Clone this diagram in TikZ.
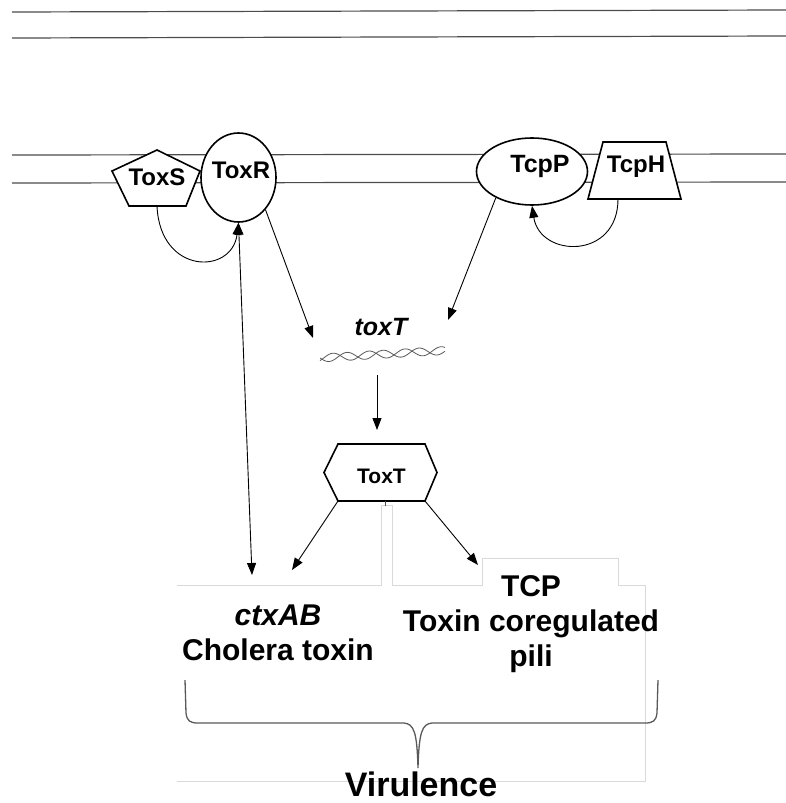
\documentclass[tikz,border=0pt]{standalone}
\usepackage{fontspec}
\setmainfont{Liberation Sans}
\usetikzlibrary{shapes.geometric,shapes.symbols,arrows.meta,calc}
\begin{document}
\begin{tikzpicture}[x=1pt,y=-1pt,
  shp/.style={draw, line width=1.6pt, fill=white, inner sep=0pt},
  lbl/.style={font=\fontsize{24}{28}\selectfont\bfseries, inner sep=0pt},
  blk/.style={font=\fontsize{30}{35}\selectfont\bfseries, inner sep=0pt, align=center},
  arr/.style={line width=0.9pt, -{Triangle[length=12pt,width=9pt]}},
  darr/.style={line width=0.9pt, {Triangle[length=12pt,width=9pt]}-{Triangle[length=12pt,width=9pt]}},
  memb/.style={line width=1.2pt, draw=black!70},
  faint/.style={draw=black!15, line width=0.8pt},
  helix/.style={draw=black!65, line width=0.8pt},
  brace/.style={draw=black!65, line width=1.3pt},
]
\useasboundingbox (0,0) rectangle (786,803);
% top lines
\draw[memb] (12,12) -- (786,10);
\draw[memb] (12,38) -- (786,36);
% membrane
\draw[memb] (12,155) -- (786,154);
\draw[memb] (12,183) -- (786,182);
% faint text-box outlines
\draw[faint] (177,585) -- (381,585) -- (381,505) -- (392,505) -- (392,585) -- (482,585) -- (482,558) -- (618,558) -- (618,585) -- (645,585) -- (645,781) -- (177,781);
% ToxS pentagon
\draw[shp] (157,150) -- (200,171) -- (186,206) -- (129,206) -- (112,171) -- cycle;
\node[lbl] (toxs) at (157,177) {ToxS};
\coordinate (toxsb) at (157,206);
% ToxR
\node[shp, ellipse, minimum width=75pt, minimum height=89pt] (toxr) at (238.5,177.5) {};
\node[lbl] (toxrt) at (241,170) {ToxR};
% TcpP
\node[shp, ellipse, minimum width=111pt, minimum height=67pt] (tcpp) at (532,171.5) {};
\node[lbl, font=\fontsize{25}{28}\selectfont\bfseries] (tcppt) at (540,166) {TcpP};
% TcpH
\draw[shp] (603,142) -- (666,142) -- (681,199) -- (588,199) -- cycle;
\node[lbl] (tcpht) at (636,167) {TcpH};
\coordinate (tcphb) at (618,199);
% feedback curves
\draw[arr] (toxsb) .. controls (160,275) and (232,275) .. (toxr.south);
\draw[arr] (tcphb) .. controls (618,260) and (540,258) .. (tcpp.south);
% toxT gene
\node[font=\fontsize{25}{28}\selectfont\bfseries\itshape, inner sep=0pt, anchor=base] (toxt) at (381,335) {toxT};
\draw[helix] plot[domain=320:445, samples=150] (\x, {358 - 0.06*(\x-320) + 4*sin(10*(\x-320))});
\draw[helix] plot[domain=320:445, samples=150] (\x, {358 - 0.06*(\x-320) + 4*sin(10*(\x-320)+140)});
\coordinate (toxtl) at (313,338);
\coordinate (toxtr) at (448,320);
\coordinate (helixb) at (377,375);
\draw[arr] (toxr.-50) -- (toxtl);
\draw[arr] (tcpp.-144) -- (toxtr);
% ToxT protein
\draw[shp] (338,444) -- (425,444) -- (437,472.5) -- (425,501) -- (338,501) -- (324,472.5) -- cycle;
\node[lbl, font=\fontsize{21}{25}\selectfont\bfseries] (hext) at (381.5,476) {ToxT};
\coordinate (hextop) at (377,430);
\draw[arr] (helixb) -- (hextop);
\draw[line width=1pt, black!70] (385,501) -- (385,506);
\coordinate (hexbl) at (338,501);
\coordinate (hexbr) at (425,501);
\coordinate (ctxtop) at (252,575);
\coordinate (ctxr) at (292,570);
\coordinate (tcpl) at (478,565);
\draw[arr] (hexbl) -- (ctxr);
\draw[arr] (hexbr) -- (tcpl);
\draw[darr] (toxr.south) -- (ctxtop);
% texts
\node[blk, anchor=north] (ctx) at (278,605) {\textit{ctxAB}\\Cholera toxin};
\node[blk, anchor=north] (tcp) at (531,575) {TCP\\Toxin coregulated\\pili};
% brace
\draw[brace] (185,680) -- (186,713) .. controls (187,721) and (190,723) .. (198,723) -- (404,723) .. controls (414,724) and (417,732) .. (418,768) .. controls (419,732) and (422,724) .. (432,723) -- (645,723) .. controls (653,723) and (656,721) .. (657,713) -- (658,680);
\node[font=\fontsize{34}{40}\selectfont\bfseries, anchor=base, inner sep=0pt] (vir) at (421,796) {Virulence};
\end{tikzpicture}
\end{document}
